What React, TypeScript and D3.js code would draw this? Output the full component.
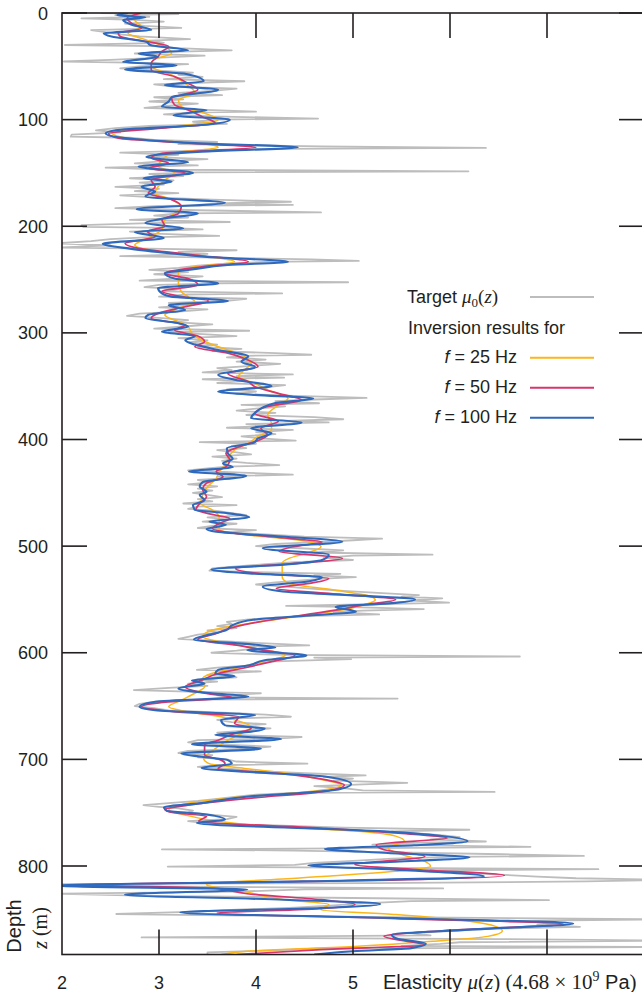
import React, { useEffect, useRef } from 'react';
import * as d3 from 'd3';

// axis ticks
const depthTicks = [0, 100, 200, 300, 400, 500, 600, 700, 800];
const elasticityTicks = [3, 4, 5, 6, 7];
const elasticityLabels = [2, 3, 4, 5];

// target profile mu0(z): [depth (m), elasticity]
const target: [number, number][] = [
  [0, 2.4], [1, 3.2], [2, 2.55], [3.5, 2.9], [5, 2.2], [6.5, 2.75], [8, 3.05], [10, 2.65], [12, 2.85], [14, 3.23],
  [16, 2.3], [18, 2.45], [20, 2.6], [22, 2.8], [24.5, 3.32], [26, 2.9], [28, 3.05], [30, 2.03], [31, 2.95], [33, 3.2],
  [35, 3.75], [36.5, 3.1], [38, 2.75], [40, 3.47], [42, 2.95], [44, 2.5], [45.5, 2.02], [46.5, 2.7], [48, 3.3], [50, 2.8],
  [52, 2.6], [54, 3.0], [56, 3.35], [58, 3.2], [60, 3.45], [62, 3.05], [64, 3.88], [65.5, 3.4], [67, 2.95], [69, 3.15],
  [71, 3.8], [73, 3.55], [75, 3.2], [77, 3.65], [79, 2.95], [81, 3.25], [83, 2.9], [85, 3.4], [87, 3.1], [89, 2.85],
  [91, 3.55], [92.5, 4.0], [93.5, 3.3], [95, 3.05], [97, 3.55], [99, 4.64], [100, 3.6], [102, 3.35], [104, 3.7], [106, 2.9],
  [108, 2.55], [110, 2.35], [112, 2.6], [114, 2.1], [116, 2.09], [117, 2.7], [119, 2.95], [121, 3.6], [123, 3.2], [125, 4.67],
  [126.5, 6.37], [127.5, 4.2], [129, 3.4], [131, 2.6], [133, 3.2], [135, 2.9], [137, 3.5], [139, 3.05], [141, 2.75], [143, 3.4],
  [145, 2.45], [147, 3.1], [148.5, 6.19], [149.5, 3.4], [151, 2.9], [153, 3.25], [155, 2.7], [157, 3.15], [159, 2.8], [161, 3.05],
  [163, 2.55], [165, 3.0], [167, 2.75], [169, 3.2], [171, 2.6], [173, 2.95], [175, 3.55], [177, 4.36], [178.5, 3.6], [180, 4.38],
  [181, 3.0], [183, 2.55], [185, 3.4], [187, 4.67], [188, 3.2], [190, 2.95], [192, 3.3], [194, 2.7], [196, 3.73], [197, 2.9],
  [199, 2.2], [200.5, 2.22], [201.5, 3.1], [203, 3.45], [205, 2.7], [207, 2.95], [209, 3.62], [210.5, 2.85], [212, 2.5], [214, 2.3],
  [216, 1.95], [218, 2.5], [220, 1.95], [221, 2.9], [222.5, 3.8], [224, 3.2], [226, 3.5], [228, 2.6], [229.5, 3.6], [231, 4.57],
  [232.5, 5.06], [233.5, 4.1], [235, 3.7], [237, 3.4], [239, 3.2], [241, 2.9], [243, 3.3], [245, 2.95], [247, 3.45], [249, 3.2],
  [251, 2.8], [252.5, 4.95], [253.5, 3.6], [255, 3.0], [257, 2.85], [259, 3.2], [261, 3.05], [263, 4.27], [264, 3.3], [266, 3.0],
  [268, 3.9], [270, 3.7], [272, 3.1], [274, 3.35], [276, 3.0], [278, 3.5], [280, 3.2], [282, 2.8], [284, 2.67], [286, 3.0],
  [288, 3.3], [290, 3.15], [292, 3.55], [294, 3.25], [296, 2.95], [298, 3.93], [299, 3.1], [301, 3.4], [303, 3.8], [305, 3.2],
  [307, 3.5], [309, 3.3], [311, 3.6], [313, 3.4], [315, 3.85], [317, 3.55], [319, 4.2], [320.5, 4.57], [321.5, 3.9], [323, 3.7],
  [325, 4.1], [327, 3.8], [329, 4.25], [331, 3.95], [333, 3.6], [335, 3.75], [337, 3.45], [339, 4.38], [340.5, 3.8], [342, 4.29],
  [343.5, 3.45], [345, 3.9], [347, 3.6], [349, 4.3], [351, 4.1], [353, 3.7], [355, 4.0], [357, 3.8], [359, 4.4], [361, 5.14],
  [362.5, 4.6], [364, 4.2], [366, 4.65], [367.5, 3.85], [369, 4.3], [371, 4.0], [373, 3.8], [375, 4.2], [377, 3.9], [379, 4.6],
  [381, 4.9], [382.5, 4.3], [384, 4.75], [385.5, 3.9], [387, 4.15], [389, 3.7], [391, 4.38], [393, 4.0], [395, 4.2], [397, 3.85],
  [399, 4.05], [401, 4.41], [402.5, 3.42], [404, 4.0], [406, 3.75], [408, 3.9], [410, 3.6], [412, 3.8], [414, 3.95], [416, 3.55],
  [418, 3.8], [420, 3.65], [422, 3.9], [424, 4.24], [425.5, 3.7], [427, 3.5], [429, 3.3], [431, 3.85], [433, 4.38], [434.5, 3.6],
  [436, 3.75], [438, 3.4], [440, 3.55], [442, 3.3], [444, 3.6], [446, 3.4], [448, 3.55], [450, 3.35], [452, 3.5], [454, 3.65],
  [456, 3.4], [458, 3.55], [460, 3.25], [461.5, 3.8], [463, 3.4], [465, 3.3], [467, 3.6], [469, 3.75], [471, 3.9], [473, 3.5],
  [475, 3.7], [477, 3.45], [479, 3.8], [481, 3.55], [483, 3.4], [485, 4.0], [487, 3.7], [489, 4.1], [491, 4.5], [493, 5.3],
  [494.5, 5.0], [496, 4.7], [498, 4.2], [500, 4.0], [502, 4.45], [504, 4.9], [506, 4.6], [508, 5.82], [509, 5.0], [511, 4.7],
  [513, 5.0], [515, 4.4], [517, 4.1], [519, 3.8], [521, 3.55], [523, 3.52], [524.5, 4.0], [526, 4.87], [527.5, 4.6], [529, 5.03],
  [530.5, 4.7], [532, 4.5], [534, 4.2], [536, 4.0], [538, 4.3], [540, 4.6], [542, 4.9], [544, 5.3], [546, 5.68], [547.5, 5.5],
  [549, 5.92], [551, 5.6], [553, 5.99], [554.5, 5.2], [556, 4.31], [557, 4.9], [559, 5.73], [560.5, 5.1], [562, 4.8], [564, 5.27],
  [565.5, 4.6], [567, 4.2], [569, 3.9], [571, 3.7], [573, 3.75], [575, 3.6], [577, 3.8], [579, 3.5], [581, 3.6], [583, 3.4],
  [585, 3.3], [587, 3.2], [589, 3.6], [591, 4.05], [593, 4.55], [594.5, 3.9], [596, 4.0], [598, 3.8], [600, 3.54], [602, 4.3],
  [603.5, 6.72], [604.5, 4.6], [606, 4.98], [608, 4.2], [610, 4.0], [612, 3.9], [614, 3.6], [616, 3.39], [617.5, 4.05], [619, 3.7],
  [621, 3.5], [623, 3.8], [625, 3.4], [627, 3.6], [629, 3.3], [631, 3.5], [633, 3.1], [635, 2.74], [636.5, 3.3], [638, 4.05],
  [640, 3.6], [642, 3.9], [643, 5.46], [644, 3.3], [646, 2.95], [648, 2.8], [650, 2.75], [652, 2.95], [654, 3.1], [656, 3.6],
  [658, 4.1], [660, 4.36], [661.5, 3.8], [663, 3.6], [665, 3.75], [667, 4.1], [669, 3.7], [671, 4.15], [673, 3.9], [675, 3.6],
  [677, 3.75], [679, 4.47], [680.5, 4.2], [682, 3.4], [684, 3.3], [686, 3.6], [688, 4.15], [690, 3.9], [692, 3.3], [694, 3.2],
  [696, 3.55], [698, 3.4], [700, 3.7], [702, 3.8], [704, 4.53], [705.5, 3.6], [707, 3.4], [709, 3.75], [711, 4.0], [713, 4.5],
  [715, 5.13], [716.5, 4.7], [718, 5.0], [720, 4.8], [722, 5.56], [723.5, 5.1], [725, 4.6], [727, 4.9], [729, 5.1], [730.5, 6.46],
  [731.5, 4.4], [733, 4.0], [735, 3.8], [737, 3.6], [739, 3.4], [741, 3.1], [743, 2.84], [744.5, 3.0], [746, 3.2], [748, 3.35],
  [750, 3.3], [752, 3.55], [754, 3.8], [756, 3.7], [758, 3.3], [760, 3.5], [762, 4.2], [764, 4.9], [766, 6.2], [767.5, 5.4],
  [769, 5.6], [771, 5.9], [773, 6.1], [775, 5.8], [777, 6.37], [778.5, 5.5], [780, 5.2], [782, 6.83], [783.5, 4.9], [784.5, 3.03],
  [785.5, 4.4], [787, 5.3], [789, 6.54], [790.5, 7.38], [791.5, 6.0], [793, 5.4], [795, 5.05], [797, 4.6], [799, 4.4], [800.5, 3.09],
  [801.5, 4.9], [803, 7.53], [804, 5.8], [806, 6.1], [808, 6.5], [810, 6.9], [811.5, 7.3], [813, 8.2], [814.5, 7.4], [816, 5.2],
  [817, 1.9], [819, 2.6], [821, 5.93], [822, 4.5], [824, 3.8], [826, 1.9], [828, 2.9], [830, 5.0], [832, 7.02], [833, 5.6],
  [835, 5.1], [837, 4.8], [839, 4.4], [841, 3.8], [843, 3.3], [845, 2.56], [846.5, 3.9], [848, 5.4], [850, 8.2], [851.5, 6.7],
  [853, 7.1], [855, 6.9], [857, 7.34], [859, 6.4], [861, 6.0], [863, 5.6], [865, 5.8], [867, 2.82], [868.5, 6.5], [870, 8.2],
  [871.5, 6.1], [873, 5.9], [875, 5.5], [876, 8.2], [877.5, 4.6], [879, 4.2], [881, 3.5], [883, 3.5],
];

// inversion result, f = 25 Hz: [depth, elasticity]
const inv25: [number, number][] = [
  [0, 2.79], [6.6, 2.75], [12.8, 2.82], [19, 2.68], [25, 2.86], [31.6, 3.06], [37.8, 3.13], [44, 2.94], [50, 2.92], [58, 3.13],
  [66, 3.27], [75, 3.37], [81.6, 3.2], [87.8, 3.23], [94, 3.47], [100, 3.61], [106.6, 3.13], [112, 2.51], [117.5, 2.68], [122, 3.37],
  [126, 3.61], [131.6, 3.13], [138, 3.03], [144, 2.99], [150, 3.16], [156.6, 3.06], [163, 2.99], [169, 2.96], [175, 3.13], [181.6, 3.23],
  [188, 3.16], [194, 3.06], [203, 3.03], [211, 2.89], [217.7, 2.75], [224, 3.03], [228.6, 3.51], [233.3, 3.78], [238, 3.37], [242.7, 3.2],
  [247.4, 3.2], [253.6, 3.2], [261.4, 3.23], [266, 3.3], [270.8, 3.37], [277, 3.2], [283.3, 3.06], [289.5, 3.2], [294, 3.3], [300.5, 3.34],
  [306.7, 3.44], [313, 3.61], [320.8, 3.85], [328.6, 3.95], [334.9, 3.88], [341, 3.82], [347.4, 3.99], [353.6, 4.12], [361.4, 4.33], [367.7, 4.23],
  [377, 4.12], [384.9, 4.16], [391, 4.16], [397, 4.02], [403, 3.93], [409, 3.79], [414.7, 3.73], [422.5, 3.69], [430.3, 3.62], [436.5, 3.59],
  [444.4, 3.5], [452, 3.45], [460, 3.43], [466, 3.55], [472.5, 3.62], [478.7, 3.62], [484.4, 3.62], [489.7, 3.93], [494.4, 4.45], [500.6, 4.67],
  [506.9, 4.51], [511.5, 4.34], [516, 4.27], [522.5, 4.27], [528.7, 4.27], [535, 4.34], [541, 4.79], [545.9, 5.13], [550.6, 5.23], [555.3, 5.1],
  [560, 4.89], [566.2, 4.41], [572.5, 3.93], [578.7, 3.55], [585, 3.45], [589.7, 3.62], [595, 3.95], [602.5, 4.3], [608.5, 4.06], [614.8, 3.78],
  [619.5, 3.54], [625.7, 3.44], [632, 3.47], [638, 3.37], [644.5, 3.23], [650.7, 3.1], [655.4, 3.3], [660, 3.64], [664.8, 3.85], [669.5, 3.95],
  [675.7, 3.85], [682, 3.71], [688, 3.61], [694.5, 3.51], [699, 3.46], [703.8, 3.51], [708.5, 3.88], [713.2, 4.33], [719.5, 4.71], [724, 4.88],
  [730.4, 4.53], [736, 3.75], [742.7, 3.22], [747.4, 3.1], [751.9, 3.26], [758, 3.6], [762.8, 4.14], [767.5, 5.05], [772, 5.44], [776.9, 5.53],
  [783, 5.36], [789.4, 5.51], [795.6, 5.74], [800.3, 5.8], [805, 5.44], [811, 4.48], [817.5, 3.49], [823.7, 3.87], [831.6, 4.29], [836, 4.75],
  [841, 4.67], [845.6, 5.44], [851.9, 6.2], [856.6, 6.47], [861, 6.54], [866, 6.39], [870.6, 5.82], [875.3, 5.05], [880, 3.91], [883, 3.64],
];

// inversion result, f = 50 Hz
const inv50: [number, number][] = [
  [0, 2.82], [5, 2.67], [9.7, 2.72], [14.4, 2.82], [19, 2.58], [22, 2.6], [27, 2.89], [31.6, 3.1], [36, 3.03], [41, 2.99],
  [47, 2.92], [53.4, 2.92], [59.7, 3.16], [66, 3.3], [72, 3.4], [80, 3.13], [86, 3.16], [91, 3.3], [97, 3.44], [103.4, 3.58],
  [108, 3.03], [113, 2.48], [117.5, 2.58], [122, 3.3], [126, 4.0], [131.6, 3.03], [136, 2.92], [141, 3.1], [145.6, 2.89], [150, 3.27],
  [156.6, 2.92], [163, 2.96], [169, 2.89], [175, 3.13], [181.6, 3.23], [188, 3.2], [194, 3.03], [200, 3.06], [205, 2.88], [209.9, 2.96],
  [216, 2.65], [220.8, 2.79], [227, 3.37], [233.3, 3.92], [238, 3.44], [244, 3.06], [249, 3.3], [255, 3.4], [261, 3.03], [266, 3.23],
  [270, 3.51], [275.5, 3.27], [281.7, 2.99], [286.4, 2.92], [292.7, 3.27], [297.4, 3.16], [303, 3.4], [308.3, 3.47], [313, 3.37], [319, 3.71],
  [324, 3.88], [331.7, 4.02], [338, 3.71], [345.8, 3.92], [350.5, 3.99], [356.7, 4.23], [363, 4.47], [369, 4.12], [375.5, 3.99], [383, 4.23],
  [389.5, 4.05], [395.8, 4.12], [402, 3.99], [407, 3.82], [413, 3.69], [419, 3.73], [425.6, 3.69], [430, 3.59], [435, 3.66], [441, 3.49],
  [447, 3.45], [453.7, 3.49], [460, 3.42], [466, 3.38], [471, 3.59], [474, 3.73], [478.7, 3.62], [483.4, 3.55], [488, 3.79], [492.8, 4.34],
  [496, 4.68], [500.6, 4.38], [505, 4.24], [511.5, 4.89], [516, 4.45], [521, 3.79], [525.6, 4.03], [530.3, 4.75], [535, 4.55], [539.7, 4.21],
  [544.4, 4.75], [550, 5.44], [555.3, 5.1], [560, 4.82], [564.7, 4.48], [571, 4.03], [577, 3.73], [581.9, 3.59], [587.5, 3.4], [593.5, 3.85],
  [597.5, 4.07], [602.5, 4.4], [608.5, 4.15], [614.8, 3.85], [619.5, 3.61], [625.7, 3.44], [632, 3.27], [638, 3.47], [642, 3.75], [646, 3.1],
  [650.7, 2.82], [655, 3.13], [660, 3.82], [666.3, 3.78], [671, 3.95], [675.7, 3.78], [682, 3.61], [686.6, 3.47], [691.3, 3.47], [696, 3.47],
  [700.7, 3.64], [703.8, 3.68], [708.5, 3.61], [713.2, 4.23], [719.5, 4.74], [724, 4.91], [730.4, 4.67], [736.6, 3.92], [742.9, 3.3], [747, 3.06],
  [750, 3.15], [753.4, 3.49], [758, 3.41], [764.4, 4.67], [769, 5.44], [773.8, 5.97], [780, 5.24], [784.7, 5.32], [791, 5.74], [798.8, 5.02],
  [803.4, 5.66], [808.8, 6.56], [813.8, 5.05], [817.5, 2.23], [821, 3.56], [826, 3.91], [831.6, 4.67], [836, 5.02], [841, 4.44], [844, 3.6],
  [849.4, 5.44], [854.4, 7.17], [859.7, 6.12], [866, 5.32], [870.6, 5.55], [873.8, 5.74], [878.4, 4.67], [883, 3.8],
];

// inversion result, f = 100 Hz
const inv100: [number, number][] = [
  [0, 2.68], [2, 2.57], [4, 2.86], [6.6, 2.63], [11, 2.72], [16, 2.92], [19, 2.43], [22, 2.51], [27, 2.87], [30, 2.91],
  [35, 3.3], [38, 2.79], [41, 2.99], [46, 2.63], [49, 3.18], [53, 2.65], [57, 3.27], [64, 3.46], [67.5, 3.06], [72, 3.61],
  [79, 3.13], [83, 3.1], [88, 3.03], [91, 3.49], [96, 3.15], [100, 3.73], [105, 3.44], [110, 2.55], [113, 2.45], [117.5, 2.68],
  [122, 3.37], [126, 4.43], [130, 3.44], [135, 2.87], [140, 3.3], [144, 2.79], [150, 3.35], [155, 2.84], [158, 3.13], [163, 2.82],
  [167.5, 2.96], [172, 2.86], [178, 3.68], [184, 2.77], [188, 3.4], [192.5, 3.06], [197, 2.86], [202, 3.25], [205.5, 2.75], [211, 3.05],
  [216.5, 2.42], [221, 2.7], [225.5, 3.13], [228.6, 3.47], [233.3, 4.33], [236.4, 3.71], [240.5, 3.34], [244, 3.06], [249, 3.16], [253.6, 3.61],
  [258, 2.99], [263, 3.03], [266, 3.13], [270, 3.71], [274, 3.1], [278.6, 3.27], [283, 2.89], [286, 2.86], [291, 3.2], [294, 3.3],
  [299, 3.03], [303, 3.37], [307, 3.27], [311, 3.37], [316, 3.61], [322, 3.92], [327, 3.85], [332, 3.99], [339.5, 3.61], [344, 3.78],
  [350, 4.16], [355, 3.61], [358, 3.95], [361.5, 4.59], [366, 4.19], [375, 3.99], [380, 3.95], [384, 4.47], [389.5, 3.95], [394, 4.16],
  [399, 4.02], [403, 3.98], [408, 3.7], [413, 3.71], [418, 3.76], [422.5, 3.66], [426, 3.76], [430, 3.31], [434, 3.9], [440, 3.45],
  [444, 3.42], [449, 3.49], [452, 3.42], [457, 3.47], [461.5, 3.35], [466, 3.37], [469, 3.69], [473, 3.93], [477, 3.52], [480, 3.69],
  [484, 3.49], [486.5, 3.59], [491, 4.27], [496, 4.89], [502, 4.07], [508, 4.75], [513, 4.68], [517, 4.34], [522, 3.54], [525.6, 3.93],
  [529, 4.68], [533, 4.55], [538, 4.07], [543, 4.34], [546, 4.96], [550, 5.64], [553.7, 5.37], [557, 4.82], [561.5, 5.03], [565, 4.55],
  [569, 3.97], [574, 3.76], [579, 3.69], [583, 3.52], [587.5, 3.36], [592.5, 4.0], [595, 4.2], [597.5, 3.91], [602.5, 4.52], [607, 4.09],
  [612, 3.92], [616, 3.61], [619.5, 3.58], [622, 3.78], [626, 3.34], [629, 3.47], [633.5, 3.2], [638, 3.54], [641, 3.92], [646, 2.96],
  [650.7, 2.8], [654, 2.96], [658.5, 3.99], [663, 3.64], [668, 3.68], [671, 4.09], [674, 3.95], [677, 3.58], [681, 4.26], [685.7, 3.34],
  [690, 4.05], [694.5, 3.23], [697.6, 3.44], [700.7, 3.71], [704, 3.75], [708, 3.44], [711.6, 3.88], [716, 4.71], [723, 4.98], [728.8, 4.81],
  [735, 3.9], [741, 3.44], [745, 3.05], [748, 3.08], [751, 3.43], [756.6, 3.68], [759.7, 3.39], [767.5, 5.32], [776.9, 6.18], [780.6, 5.63],
  [784, 4.71], [787.8, 5.36], [791.9, 6.2], [796, 5.44], [799.4, 4.54], [803.4, 5.44], [809.7, 6.35], [814.4, 4.48], [818.5, 1.9], [822, 3.91],
  [826.9, 2.65], [831.6, 4.29], [835.6, 5.28], [839.4, 4.67], [843.5, 3.22], [848.8, 5.44], [854, 7.27], [859.7, 6.2], [864.4, 5.4], [868, 5.45],
  [873, 5.75], [877, 5.6], [880, 5.0], [883, 4.6],
];

const series = [
  { freq: '25', data: inv25, color: '#fbb61a', width: 1.5 },
  { freq: '50', data: inv50, color: '#d8356c', width: 1.7 },
  { freq: '100', data: inv100, color: '#2e69bd', width: 2.1 },
];

const SANS = '"Liberation Sans", Arial, Helvetica, sans-serif';
const SERIF = '"Liberation Serif", "DejaVu Serif", serif';
const INK = '#231f20';

export default function App() {
  const ref = useRef<SVGSVGElement>(null);

  useEffect(() => {
    draw();
    // eslint-disable-next-line react-hooks/exhaustive-deps
  }, []);

  function draw() {
    const svg = d3.select(ref.current);
    svg.selectAll('*').remove();

    const x = d3.scaleLinear().domain([2, 8]).range([62, 644]);
    const y = d3.scaleLinear().domain([0, 883]).range([13, 954.5]);
    const [x0, x1] = x.range();
    const [y0, y1] = y.range();

    svg.append('defs').append('clipPath').attr('id', 'plot-clip')
      .append('rect').attr('x', x0).attr('y', y0).attr('width', x1 - x0).attr('height', y1 - y0);

    const plot = svg.append('g').attr('clip-path', 'url(#plot-clip)');

    const line = d3.line<[number, number]>()
      .x((d) => x(d[1]))
      .y((d) => y(d[0]));
    plot.append('path')
      .attr('d', line(target))
      .attr('fill', 'none')
      .attr('stroke', '#bdbdbd')
      .attr('stroke-width', 1.8)
      .attr('stroke-linejoin', 'round');

    const smooth = d3.line<[number, number]>()
      .x((d) => x(d[1]))
      .y((d) => y(d[0]))
      .curve(d3.curveMonotoneY);
    series.forEach((s) => {
      plot.append('path')
        .attr('d', smooth(s.data))
        .attr('fill', 'none')
        .attr('stroke', s.color)
        .attr('stroke-width', s.width)
        .attr('stroke-linejoin', 'round');
    });

    // frame
    const frame = svg.append('g').attr('stroke', INK).attr('stroke-width', 1.6).attr('fill', 'none');
    frame.append('rect').attr('x', x0).attr('y', y0).attr('width', x1 - x0).attr('height', y1 - y0);
    depthTicks.forEach((t) => {
      frame.append('line').attr('x1', x0).attr('x2', x0 + 25).attr('y1', y(t)).attr('y2', y(t));
      frame.append('line').attr('x1', x1 - 25).attr('x2', x1).attr('y1', y(t)).attr('y2', y(t));
    });
    elasticityTicks.forEach((t) => {
      frame.append('line').attr('x1', x(t)).attr('x2', x(t)).attr('y1', y0).attr('y2', y0 + 25);
      frame.append('line').attr('x1', x(t)).attr('x2', x(t)).attr('y1', y1).attr('y2', y1 - 25);
    });

    const text = svg.append('g').attr('fill', INK).attr('font-family', SANS).attr('font-size', 18);

    text.selectAll('.ylab')
      .data(depthTicks)
      .enter()
      .append('text')
      .attr('x', 48)
      .attr('y', (d) => y(d) + 6.5)
      .attr('text-anchor', 'end')
      .text((d) => d);

    text.selectAll('.xlab')
      .data(elasticityLabels)
      .enter()
      .append('text')
      .attr('x', (d) => x(d))
      .attr('y', 989)
      .attr('text-anchor', 'middle')
      .text((d) => d);

    // x title
    const xt = text.append('text').attr('x', 383).attr('y', 989).attr('font-size', 20);
    xt.append('tspan').text('Elasticity ');
    xt.append('tspan').attr('font-family', SERIF).attr('font-style', 'italic').attr('font-size', 21).text('μ');
    xt.append('tspan').attr('font-family', SERIF).attr('font-size', 21).text('(');
    xt.append('tspan').attr('font-family', SERIF).attr('font-style', 'italic').attr('font-size', 21).text('z');
    xt.append('tspan').attr('font-family', SERIF).attr('font-size', 21).text(') (4.68 × 10');
    xt.append('tspan').attr('font-family', SERIF).attr('font-size', 14).attr('dy', -8).text('9');
    xt.append('tspan').attr('dy', 8).text(' Pa');
    xt.append('tspan').attr('font-family', SERIF).attr('font-size', 21).text(')');

    // y title
    text.append('text')
      .attr('transform', 'translate(21,926) rotate(-90)')
      .attr('text-anchor', 'middle')
      .attr('font-size', 20)
      .text('Depth');
    const zt = text.append('text')
      .attr('transform', 'translate(47,928) rotate(-90)')
      .attr('text-anchor', 'middle')
      .attr('font-family', SERIF)
      .attr('font-size', 20);
    zt.append('tspan').attr('font-style', 'italic').text('z');
    zt.append('tspan').text(' (m)');

    // legend
    const lx0 = 530;
    const lx1 = 594;
    const lg = svg.append('g');
    lg.append('line').attr('x1', lx0).attr('x2', lx1).attr('y1', 297).attr('y2', 297)
      .attr('stroke', '#bdbdbd').attr('stroke-width', 2);
    const tt = lg.append('text').attr('x', 407).attr('y', 302.5).attr('font-family', SANS).attr('font-size', 18).attr('fill', INK);
    tt.append('tspan').text('Target ');
    tt.append('tspan').attr('font-family', SERIF).attr('font-style', 'italic').attr('font-size', 19).text('μ');
    tt.append('tspan').attr('font-family', SERIF).attr('font-size', 13).attr('dy', 4).text('0');
    tt.append('tspan').attr('font-family', SERIF).attr('font-size', 19).attr('dy', -4).text('(');
    tt.append('tspan').attr('font-family', SERIF).attr('font-style', 'italic').attr('font-size', 19).text('z');
    tt.append('tspan').attr('font-family', SERIF).attr('font-size', 19).text(')');
    lg.append('text').attr('x', 408).attr('y', 334).attr('font-family', SANS).attr('font-size', 18)
      .attr('fill', INK).text('Inversion results for');

    series.forEach((s, i) => {
      const ly = 357.7 + i * 30;
      lg.append('line').attr('x1', lx0).attr('x2', lx1).attr('y1', ly).attr('y2', ly)
        .attr('stroke', s.color).attr('stroke-width', 2);
      const t = lg.append('text').attr('x', 517).attr('y', ly + 5).attr('text-anchor', 'end')
        .attr('font-family', SANS).attr('font-size', 18).attr('fill', INK);
      t.append('tspan').attr('font-style', 'italic').text('f');
      t.append('tspan').text(` = ${s.freq} Hz`);
    });
  }

  return (
    <svg
      ref={ref}
      width={642}
      height={992}
      style={{ position: 'absolute', left: 0, top: 0, display: 'block', background: '#fff' }}
    />
  );
}
